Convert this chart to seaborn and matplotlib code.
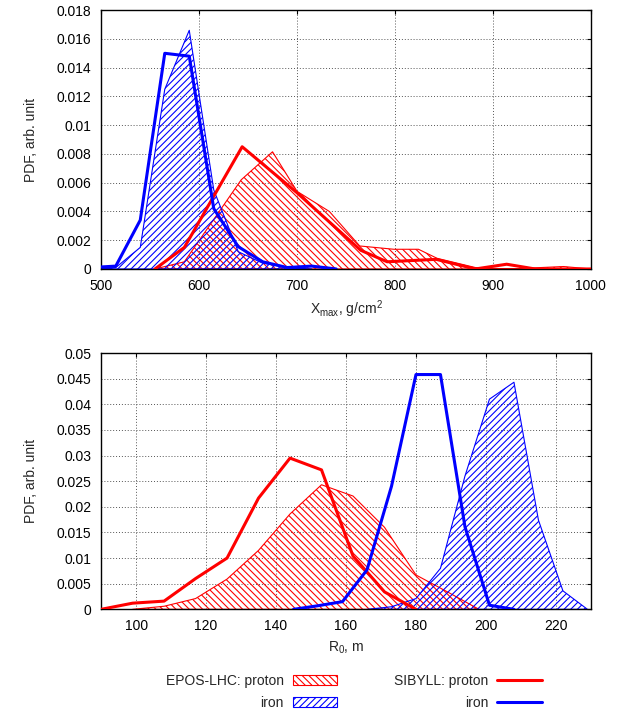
import matplotlib
matplotlib.use("Agg")
import matplotlib.pyplot as plt
import seaborn as sns
import pandas as pd

# Xmax distributions (g/cm^2, PDF)
xmax_epos_p = [555, 585, 643, 675, 700, 733, 764, 799, 824, 843, 882, 917, 972, 1000]
pdf_epos_p = [0, 0.0005, 0.0062, 0.00815, 0.0054, 0.0040, 0.0016, 0.00137, 0.00137,
              0.00074, 0.0001, 0, 0.00017, 0]
xmax_epos_fe = [490, 515, 540, 565, 590, 615, 640, 665, 690, 715]
pdf_epos_fe = [0, 0.0001, 0.0015, 0.0125, 0.0166, 0.0055, 0.0012, 0.0004, 0.0001, 0]
xmax_sib_p = [555, 585, 644, 700, 765, 792, 842, 882, 914, 943, 1000]
pdf_sib_p = [0, 0.0015, 0.0085, 0.0053, 0.0013, 0.0005, 0.00067, 0, 0.00033, 0, 0]
xmax_sib_fe = [490, 515, 540, 565, 590, 615, 640, 665, 690, 715, 740]
pdf_sib_fe = [0.0001, 0.0002, 0.0034, 0.0150, 0.0148, 0.0042, 0.00155, 0.0005, 0.0001,
              0.0002, 0]

# R0 distributions (m, PDF)
r0_epos_p = [99, 108, 117, 126, 135, 144, 153, 162, 171, 180, 189, 198]
pdfr_epos_p = [0, 0.0006, 0.0021, 0.0059, 0.0115, 0.0186, 0.0243, 0.0221, 0.016,
               0.0067, 0.0034, 0]
r0_epos_fe = [166, 173, 180, 187, 194, 201, 208, 215, 222, 229]
pdfr_epos_fe = [0, 0.0005, 0.0021, 0.008, 0.026, 0.041, 0.0443, 0.0174, 0.0036, 0]
r0_sib_p = [90, 99, 108, 117, 126, 135, 144, 153, 162, 171, 180]
pdfr_sib_p = [0, 0.0012, 0.0016, 0.006, 0.010, 0.0217, 0.0295, 0.0272, 0.0104, 0.0034, 0]
r0_sib_fe = [145, 152, 159, 166, 173, 180, 187, 194, 201, 208]
pdfr_sib_fe = [0, 0.0007, 0.0015, 0.0077, 0.024, 0.0458, 0.0458, 0.0161, 0.0008, 0]

xmax_ticks = [500, 600, 700, 800, 900, 1000]
xmax_yticks = [0, 0.002, 0.004, 0.006, 0.008, 0.01, 0.012, 0.014, 0.016, 0.018]
r0_ticks = [100, 120, 140, 160, 180, 200, 220]
r0_yticks = [0, 0.005, 0.01, 0.015, 0.02, 0.025, 0.03, 0.035, 0.04, 0.045, 0.05]

sns.set_style("white")
plt.rcParams["font.family"] = ["Liberation Sans", "DejaVu Sans"]
plt.rcParams["mathtext.fontset"] = "custom"
plt.rcParams["mathtext.rm"] = "Liberation Sans"
plt.rcParams["mathtext.it"] = "Liberation Sans:italic"
plt.rcParams["font.size"] = 10
plt.rcParams["hatch.linewidth"] = 0.8

RED = "#ff0000"
BLUE = "#0000ff"

fig = plt.figure(figsize=(6.24, 7.11), dpi=100)
ax1 = fig.add_axes([0.162, 0.6217, 0.785, 0.364])
ax2 = fig.add_axes([0.162, 0.143, 0.785, 0.3605])


def draw(ax, ep_x, ep_y, ef_x, ef_y, sp_x, sp_y, sf_x, sf_y):
    ax.fill_between(ep_x, ep_y, 0, facecolor="none", edgecolor=RED, hatch="\\" * 5,
                    linewidth=0.8, label="EPOS-LHC: proton", zorder=2)
    ax.fill_between(ef_x, ef_y, 0, facecolor="none", edgecolor=BLUE, hatch="/" * 5,
                    linewidth=0.8, label="iron", zorder=2)
    sns.lineplot(data=pd.DataFrame({"x": sp_x, "y": sp_y}), x="x", y="y", ax=ax,
                 color=RED, linewidth=2.2, label="SIBYLL: proton", zorder=3,
                 sort=False, estimator=None)
    sns.lineplot(data=pd.DataFrame({"x": sf_x, "y": sf_y}), x="x", y="y", ax=ax,
                 color=BLUE, linewidth=2.2, label="iron", zorder=3,
                 sort=False, estimator=None)


draw(ax1, xmax_epos_p, pdf_epos_p, xmax_epos_fe, pdf_epos_fe,
     xmax_sib_p, pdf_sib_p, xmax_sib_fe, pdf_sib_fe)
draw(ax2, r0_epos_p, pdfr_epos_p, r0_epos_fe, pdfr_epos_fe,
     r0_sib_p, pdfr_sib_p, r0_sib_fe, pdfr_sib_fe)

for ax, xt, yt, xl in [(ax1, xmax_ticks, xmax_yticks, (500, 1000)),
                       (ax2, r0_ticks, r0_yticks, (90, 230))]:
    ax.set_xlim(*xl)
    ax.set_ylim(yt[0], yt[-1])
    ax.set_xticks(xt)
    ax.set_yticks(yt)
    ax.set_yticklabels(["%g" % v for v in yt])
    ax.grid(True, linestyle=(0, (1, 2)), color="#555555", linewidth=0.7)
    ax.set_axisbelow(True)
    ax.tick_params(direction="in", length=3, width=0.8, top=True, right=True,
                   pad=7, labelsize=10, colors="black")
    for s in ax.spines.values():
        s.set_color("black")
        s.set_linewidth(1.0)
    ax.set_ylabel("PDF, arb. unit", fontsize=10)
    if ax.get_legend() is not None:
        ax.get_legend().remove()

ax1.set_xlabel(r"X$_{\mathrm{max}}$, g/cm$^{2}$", fontsize=10, labelpad=4)
ax2.set_xlabel(r"R$_{\mathrm{0}}$, m", fontsize=10, labelpad=5)
ax1.yaxis.set_label_coords(-0.128, 0.5)
ax2.yaxis.set_label_coords(-0.128, 0.5)

handles, labels = ax2.get_legend_handles_labels()
fig.legend(handles, labels, ncol=2, markerfirst=False, frameon=False,
           loc="center", bbox_to_anchor=(0.567, 0.027), fontsize=10,
           handlelength=3.2, handleheight=0.7, handletextpad=0.65,
           columnspacing=4.1, labelspacing=0.55)

fig.savefig("out.png", dpi=100)
